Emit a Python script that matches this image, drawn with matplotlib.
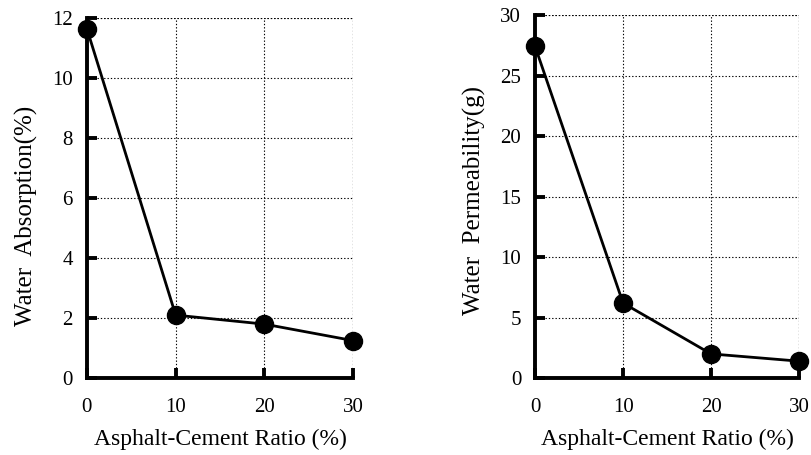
import matplotlib
matplotlib.use("Agg")
import matplotlib.pyplot as plt

ratio = [0, 10, 20, 30]
absorption = [11.65, 2.1, 1.8, 1.25]
permeability = [27.4, 6.2, 2.0, 1.4]
abs_ticks = [0, 2, 4, 6, 8, 10, 12]
perm_ticks = [0, 5, 10, 15, 20, 25, 30]

plt.rcParams['font.family'] = ['Liberation Serif', 'DejaVu Serif']

fig = plt.figure(figsize=(8.12, 4.55), dpi=100)
ax1 = fig.add_axes([0.107, 0.169, 0.328, 0.791])
ax2 = fig.add_axes([0.659, 0.169, 0.325, 0.798])

def style(ax, y, ticks, ylabel, label_y):
    ax.plot(ratio, y, color='black', lw=2.0, marker='o', ms=13, clip_on=False, zorder=5)
    ax.set_xlim(0, 30)
    ax.set_ylim(ticks[0], ticks[-1])
    ax.set_xticks(ratio)
    ax.set_yticks(ticks)
    ax.grid(True, color='black', linestyle=(0, (1.2, 1.8)), lw=0.8)
    for s in ['top', 'right']:
        ax.spines[s].set_visible(False)
    for s in ['left', 'bottom']:
        ax.spines[s].set_linewidth(2.8)
    ax.tick_params(direction='in', length=7, width=2.8, labelsize=15, pad=10)
    ax.tick_params(axis='x', pad=14)
    ax.set_xlabel('Asphalt-Cement Ratio (%)', fontsize=17, labelpad=9)
    ax.set_ylabel(ylabel, fontsize=18, labelpad=10)
    ax.yaxis.label.set_y(label_y)
    ax.axhline(ticks[-1], color='black', linestyle=(0, (1.2, 1.8)), lw=0.8)
    ax.axvline(30, color='black', linestyle=(0, (1.2, 1.8)), lw=0.8)

style(ax1, absorption, abs_ticks, 'Water  Absorption(%)', 0.45)
style(ax2, permeability, perm_ticks, 'Water  Permeability(g)', 0.49)

fig.savefig('out.png', dpi=100)
